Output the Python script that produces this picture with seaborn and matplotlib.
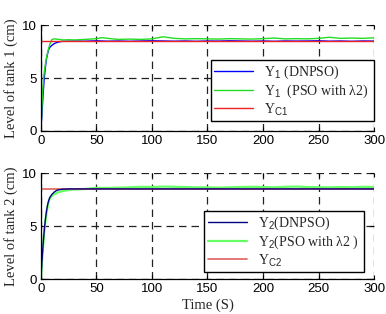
import numpy as np
import pandas as pd
import matplotlib
matplotlib.use('Agg')
import matplotlib.pyplot as plt
import seaborn as sns

# time axis (s)
time = [0, 1, 2, 3, 4, 5, 6, 7, 8, 10, 12, 14, 16, 18, 20, 25, 30, 40, 50, 55, 60,
        70, 80, 90, 100, 110, 120, 130, 140, 150, 160, 170, 180, 190, 200, 210,
        220, 230, 240, 250, 260, 270, 280, 290, 300]

# tank 1
y1_dnpso = [0, 1.8, 3.5, 5.0, 6.0, 6.8, 7.3, 7.7, 7.9, 8.1, 8.25, 8.35, 8.4, 8.45, 8.47,
            8.48, 8.5, 8.48, 8.52, 8.5, 8.48, 8.5, 8.47, 8.5, 8.52, 8.5, 8.48, 8.5, 8.47,
            8.5, 8.49, 8.52, 8.5, 8.48, 8.5, 8.47, 8.5, 8.49, 8.5, 8.52, 8.48, 8.5, 8.47,
            8.5, 8.49]
y1_pso = [0, 2.5, 4.5, 5.6, 6.3, 6.9, 7.4, 7.8, 8.2, 8.65, 8.7, 8.68, 8.65, 8.62, 8.6,
          8.62, 8.6, 8.65, 8.72, 8.82, 8.75, 8.65, 8.68, 8.65, 8.7, 8.9, 8.75, 8.7, 8.72,
          8.7, 8.68, 8.72, 8.7, 8.68, 8.72, 8.78, 8.7, 8.72, 8.7, 8.75, 8.85, 8.75, 8.78,
          8.75, 8.8]
yc1 = 8.5

# tank 2
y2_dnpso = [0, 1.8, 3.3, 4.6, 5.6, 6.4, 7.0, 7.4, 7.7, 8.0, 8.2, 8.35, 8.42, 8.45, 8.48,
            8.5, 8.5, 8.5, 8.5, 8.5, 8.5, 8.5, 8.5, 8.5, 8.5, 8.5, 8.5, 8.5, 8.5, 8.5,
            8.5, 8.5, 8.5, 8.5, 8.5, 8.5, 8.5, 8.5, 8.5, 8.5, 8.5, 8.5, 8.5, 8.5, 8.5]
y2_pso = [0, 1.7, 3.2, 4.4, 5.4, 6.2, 6.8, 7.3, 7.6, 7.85, 8.0, 8.1, 8.2, 8.25, 8.3,
          8.4, 8.45, 8.5, 8.6, 8.6, 8.6, 8.62, 8.65, 8.7, 8.68, 8.72, 8.7, 8.68, 8.65,
          8.65, 8.62, 8.65, 8.68, 8.7, 8.68, 8.65, 8.7, 8.72, 8.68, 8.66, 8.65, 8.68,
          8.66, 8.7, 8.68]
yc2 = 8.45

xticks = [0, 50, 100, 150, 200, 250, 300]
yticks = [0, 5, 10]

sns.set_style('ticks')
plt.rcParams['font.family'] = ['Liberation Sans', 'DejaVu Sans']
plt.rcParams['mathtext.fontset'] = 'custom'
plt.rcParams['mathtext.rm'] = 'Liberation Sans'
plt.rcParams['mathtext.it'] = 'Liberation Sans'
serif = ['Liberation Serif', 'DejaVu Serif']


def style_axes(ax, ylabel):
    ax.set_xlim(0, 300)
    ax.set_ylim(0, 10)
    ax.set_xticks(xticks)
    ax.set_yticks(yticks)
    ax.tick_params(direction='in', top=True, right=True, labelsize=9.5, length=3,
                   color='k', labelcolor='k', pad=3)
    ax.grid(True, color='#222222', linestyle=(0, (6, 4)), linewidth=0.9)
    for s in ['top', 'right']:
        ax.spines[s].set_visible(False)
    for s in ['left', 'bottom']:
        ax.spines[s].set_color('k')
        ax.spines[s].set_linewidth(0.9)
    ax.set_ylabel(ylabel, family=serif, fontsize=10.5, labelpad=3)


fig = plt.figure(figsize=(3.86, 3.14), dpi=100)
ax1 = fig.add_axes([0.106, 0.583, 0.863, 0.337])
ax2 = fig.add_axes([0.106, 0.111, 0.863, 0.338])

df1 = pd.DataFrame({'t': time, 'dn': y1_dnpso, 'pso': y1_pso})
sns.lineplot(data=df1, x='t', y='dn', ax=ax1, color='#0000ff', lw=1.0,
             label=r'Y$_1$ (DNPSO)')
sns.lineplot(data=df1, x='t', y='pso', ax=ax1, color='#22dd22', lw=1.0,
             label=r'Y$_1$  (PSO with λ2)')
sns.lineplot(x=[0, 300], y=[yc1, yc1], ax=ax1, color='#ee2222', lw=1.0,
             label=r'Y$_{C1}$')
style_axes(ax1, 'Level of tank 1 (cm)')
ax1.set_xlabel('')

df2 = pd.DataFrame({'t': time, 'dn': y2_dnpso, 'pso': y2_pso})
sns.lineplot(data=df2, x='t', y='pso', ax=ax2, color='#66ff66', lw=1.6,
             label=r'Y$_2$(PSO with λ2 )')
sns.lineplot(x=[0, 300], y=[yc2, yc2], ax=ax2, color='#e06060', lw=1.2,
             label=r'Y$_{C2}$')
sns.lineplot(data=df2, x='t', y='dn', ax=ax2, color='#000080', lw=1.0,
             label=r'Y$_2$(DNPSO)')
style_axes(ax2, 'Level of tank 2 (cm)')
ax2.set_xlabel('Time (S)', family=serif, fontsize=10.5, labelpad=2)

# legends
h1, l1 = ax1.get_legend_handles_labels()
leg1 = ax1.legend(h1, l1, loc='lower left', bbox_to_anchor=(0.51, 0.094, 0.49, 0.546),
                  mode='expand', fancybox=False, framealpha=1, edgecolor='k',
                  prop={'family': serif, 'size': 10}, handlelength=2.8,
                  borderaxespad=0, labelspacing=0.1, borderpad=0.25)
leg1.get_frame().set_linewidth(1.0)

h2, l2 = ax2.get_legend_handles_labels()
order = [2, 0, 1]
leg2 = ax2.legend([h2[i] for i in order], [l2[i] for i in order], loc='lower left',
                  bbox_to_anchor=(0.49, 0.066, 0.48, 0.554), mode='expand',
                  fancybox=False, framealpha=1, edgecolor='k',
                  prop={'family': serif, 'size': 10}, handlelength=2.8,
                  borderaxespad=0, labelspacing=0.1, borderpad=0.25)
leg2.get_frame().set_linewidth(1.0)

fig.savefig('out.png', dpi=100)
